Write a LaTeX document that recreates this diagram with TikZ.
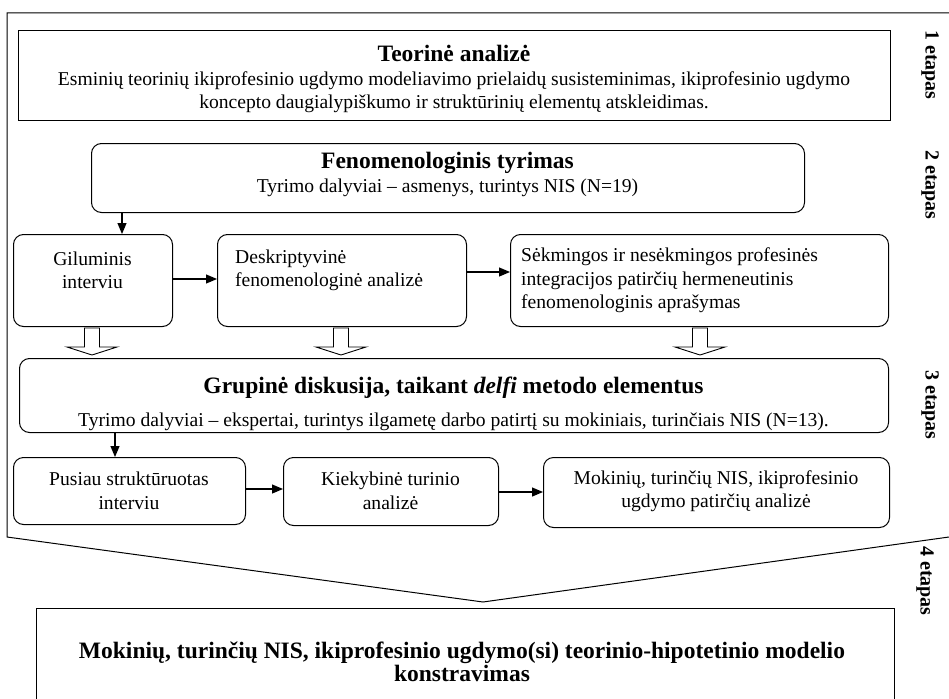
\documentclass[tikz,border=0pt]{standalone}
\usepackage{fontspec}
\setmainfont{Liberation Serif}
\usetikzlibrary{arrows.meta}
\begin{document}
\begin{tikzpicture}[x=1pt,y=-1pt,
  box/.style={draw, line width=1pt, anchor=north west, inner sep=0pt},
  rbox/.style={box, rounded corners=10pt},
  body/.style={font=\fontsize{19.6}{23.5}\selectfont, inner sep=0pt, align=center},
  bodyl/.style={font=\fontsize{19.6}{23.5}\selectfont, inner sep=0pt, align=left, anchor=west},
  ttl/.style={font=\fontsize{23.5}{27}\selectfont\bfseries, inner sep=0pt},
  arr/.style={-{Triangle[length=11pt,width=9pt]}, line width=1.2pt},
  hollow/.style={draw, line width=0.9pt, fill=white},
  lab/.style={font=\fontsize{20}{24}\selectfont\bfseries, rotate=-90, inner sep=0pt}]
\useasboundingbox (0,0) rectangle (949,698);

% outer frame
\draw[line width=1pt] (949,13) -- (7,13) -- (7,537) -- (483,602) -- (949,537);

% stage 1
\node[box, minimum width=872pt, minimum height=90pt] (b1) at (18,30) {};
\node[ttl] (b1t) at (454,53.5) {Teorinė analizė};
\node[body] (b1b) at (454,92) {Esminių teorinių ikiprofesinio ugdymo modeliavimo prielaidų susisteminimas, ikiprofesinio ugdymo\\koncepto daugialypiškumo ir struktūrinių elementų atskleidimas.};

% stage 2
\node[rbox, minimum width=713pt, minimum height=69pt] (b2) at (91,143) {};
\node[ttl] (b2t) at (447.5,163) {Fenomenologinis tyrimas};
\node[body] (b2b) at (447.5,188) {Tyrimo dalyviai – asmenys, turintys NIS (N=19)};

\node[rbox, minimum width=159pt, minimum height=92pt] (gil) at (13,234) {};
\node[body] (gilt) at (92.5,270.5) {Giluminis\\interviu};
\node[rbox, minimum width=249pt, minimum height=92pt] (desk) at (217,234) {};
\node[bodyl] (deskt) at (235,270.5) {Deskriptyvinė\\fenomenologinė analizė};
\node[rbox, minimum width=378pt, minimum height=92pt] (sek) at (510,234) {};
\node[bodyl] (sekt) at (521,280.5) {Sėkmingos ir nesėkmingos profesinės\\integracijos patirčių hermeneutinis\\fenomenologinis aprašymas};

\coordinate (a1x) at (122,0);
\coordinate (y279) at (0,279);
\coordinate (y272) at (0,272);
\draw[arr] (b2.south -| a1x) -- (gil.north -| a1x);
\draw[arr] (gil.east |- y279) -- (desk.west |- y279);
\draw[arr] (desk.east |- y272) -- (sek.west |- y272);

% hollow arrows
\foreach \cx in {92,341,700}{
  \draw[hollow] (\cx-7.5,328) -- (\cx+7.5,328) -- (\cx+7.5,347) -- (\cx+25,347)
    -- (\cx,355) -- (\cx-25,347) -- (\cx-7.5,347) -- cycle;
}

% stage 3
\node[rbox, minimum width=869pt, minimum height=74pt] (grp) at (19,358) {};
\node[ttl] (grpt) at (453.5,387.5) {Grupinė diskusija, taikant \textit{delfi} metodo elementus};
\node[body] (grpb) at (453.5,421.5) {Tyrimo dalyviai – ekspertai, turintys ilgametę darbo patirtį su mokiniais, turinčiais NIS (N=13).};

\node[rbox, minimum width=232pt, minimum height=67pt] (pus) at (13,457) {};
\node[body] (pust) at (129,491) {Pusiau struktūruotas\\interviu};
\node[rbox, minimum width=215pt, minimum height=68pt] (kiek) at (283,457) {};
\node[body] (kiekt) at (390.5,491) {Kiekybinė turinio\\analizė};
\node[rbox, minimum width=346pt, minimum height=70pt] (mok) at (543,457) {};
\node[body] (mokt) at (716,491) {Mokinių, turinčių NIS, ikiprofesinio\\ugdymo patirčių analizė};

\coordinate (a2x) at (115,0);
\coordinate (y489) at (0,489);
\coordinate (y492) at (0,492);
\draw[arr] (grp.south -| a2x) -- (pus.north -| a2x);
\draw[arr] (pus.east |- y489) -- (kiek.west |- y489);
\draw[arr] (kiek.east |- y492) -- (mok.west |- y492);

% stage 4
\draw[line width=1pt] (36,700) -- (36,608) -- (894,608) -- (894,700);
\node[ttl, align=center, font=\fontsize{23.5}{23.5}\selectfont\bfseries] (fin) at (462,662) {Mokinių, turinčių NIS, ikiprofesinio ugdymo(si) teorinio-hipotetinio modelio\\konstravimas};

% stage labels
\node[lab] (l1) at (930,65) {1 etapas};
\node[lab] (l2) at (930,185) {2 etapas};
\node[lab] (l3) at (930,405) {3 etapas};
\node[lab] (l4) at (925,581) {4 etapas};
\end{tikzpicture}
\end{document}
